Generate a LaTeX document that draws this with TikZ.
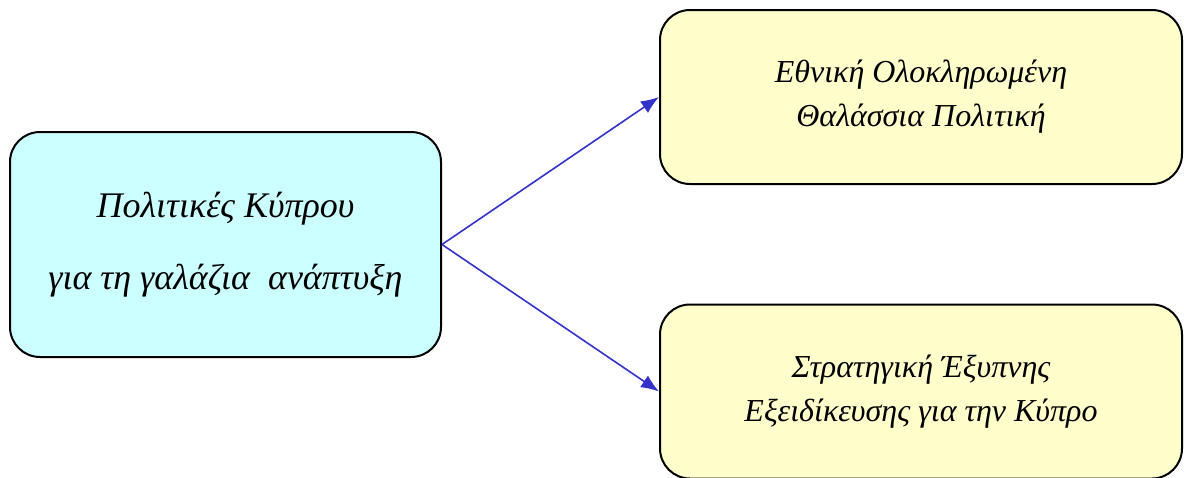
\documentclass[tikz,border=0pt]{standalone}
\usepackage{fontspec}
\setmainfont{Liberation Serif}
\usepackage{tikz}
\usetikzlibrary{arrows.meta}

\definecolor{policycyan}{HTML}{CCFFFF}
\definecolor{policyyellow}{HTML}{FFFFCC}
\definecolor{arrowblue}{HTML}{3333CC}

\tikzset{
  policybox/.style={draw=black, line width=1pt, rounded corners=15pt, align=center, inner sep=0pt},
  policyarrow/.style={draw=arrowblue, line width=0.8pt, -{Latex[length=9pt,width=7pt]}}
}

\begin{document}
\begin{tikzpicture}[x=0.5pt, y=-0.5pt]
      \useasboundingbox (0, 0) rectangle (1184, 477);

      \node[policybox, fill=policycyan, minimum width=215.5pt, minimum height=112.5pt,
            font=\fontsize{18}{36}\selectfont\itshape] (cyprus) at (225.5, 244.5)
            {Πολιτικές Κύπρου\\για τη γαλάζια \ ανάπτυξη};

      \node[policybox, fill=policyyellow, minimum width=261pt, minimum height=87pt,
            font=\fontsize{16}{22}\selectfont\itshape] (marine) at (921, 97)
            {Εθνική Ολοκληρωμένη\\Θαλάσσια Πολιτική};
      \node[policybox, fill=policyyellow, minimum width=261pt, minimum height=87pt,
            font=\fontsize{16}{22}\selectfont\itshape] (smart) at (921, 391.5)
            {Στρατηγική Έξυπνης\\Εξειδίκευσης για την Κύπρο};

      \draw[policyarrow] (cyprus.east) -- (marine.west);
      \draw[policyarrow] (cyprus.east) -- (smart.west);
    \end{tikzpicture}
\end{document}
